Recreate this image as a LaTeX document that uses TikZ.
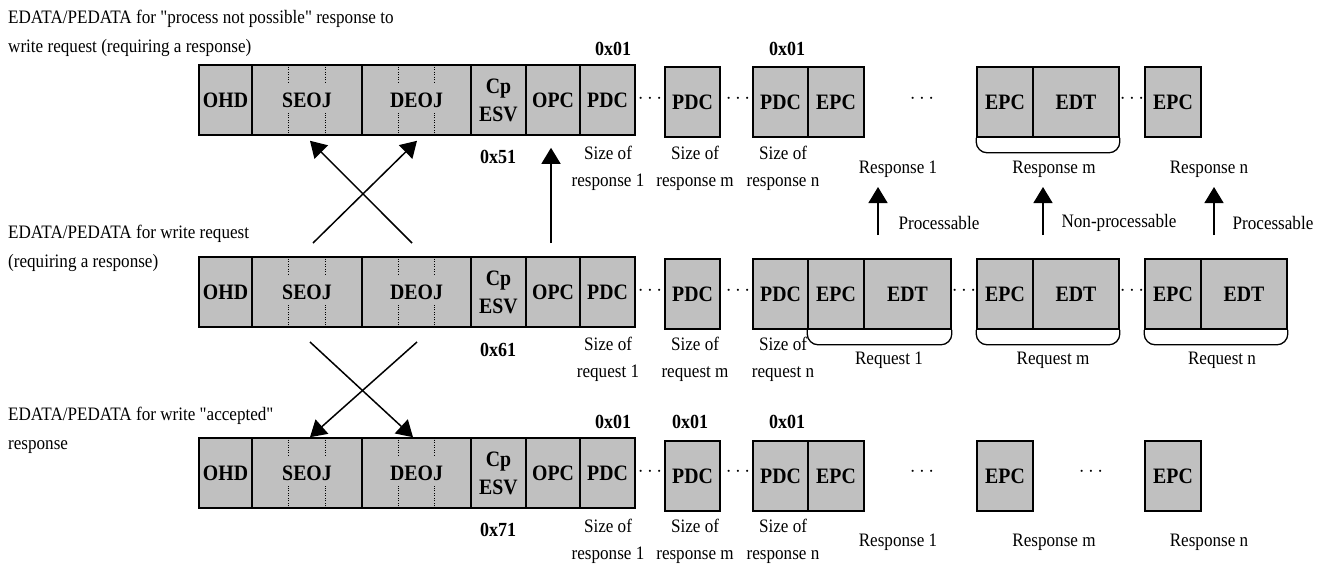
\documentclass[tikz,border=0pt]{standalone}
\usepackage{fontspec}
\setmainfont{Liberation Serif}[FakeStretch=0.9]
\newfontfamily\qfont{Liberation Serif}[FakeStretch=0.9]
\usetikzlibrary{arrows.meta,calc}
\definecolor{cellgray}{HTML}{C0C0C0}
\newcommand{\sq}{{\qfont"}}
\begin{document}
\begin{tikzpicture}[x=1pt,y=-1pt,
  cell/.style={draw=black, line width=1.6pt, fill=cellgray, inner sep=0pt,
    minimum height=70pt, font=\fontsize{22}{28}\selectfont\bfseries, align=center},
  hex/.style={inner sep=0pt, font=\fontsize{20}{24}\selectfont\bfseries},
  lbl/.style={inner sep=0pt, font=\fontsize{19}{27}\selectfont, align=center},
  side/.style={inner sep=0pt, anchor=west, font=\fontsize{19}{29}\selectfont, align=left},
  dts/.style={inner sep=0pt, font=\fontsize{21}{24}\selectfont},
  arr/.style={line width=1.5pt, -{Triangle[length=16pt,width=19pt]}},
  brc/.style={line width=1.3pt, rounded corners=11pt},
  dotl/.style={line width=1pt, dash pattern=on 1pt off 1.5pt}
]
\useasboundingbox (0,0) rectangle (1332,568);

% ---------- side labels
\node[side] (lab-top) at (8,33) {EDATA/PEDATA for \sq process not possible\sq\ response to\\write request (requiring a response)};
\node[side] (lab-mid) at (8,248) {EDATA/PEDATA for write request\\(requiring a response)};
\node[side] (lab-bot) at (8,430) {EDATA/PEDATA for write \sq accepted\sq\\response};

% TOP ROW
\node[cell, minimum width=53pt]  (t-ohd)  at (225.5,100) {OHD};
\node[cell, minimum width=110pt] (t-seoj) at (307,100) {SEOJ};
\node[cell, minimum width=109pt] (t-deoj) at (416.5,100) {DEOJ};
\node[cell, minimum width=55pt]  (t-esv)  at (498.5,100) {Cp\\ESV};
\node[cell, minimum width=54pt]  (t-opc)  at (553,100) {OPC};
\node[cell, minimum width=55pt]  (t-pdc1) at (607.5,100) {PDC};
\node[cell, minimum width=55pt]  (t-pdcm) at (692.5,102) {PDC};
\node[cell, minimum width=55pt]  (t-pdcn) at (780.5,102) {PDC};
\node[cell, minimum width=56pt]  (t-epc1) at (836,102) {EPC};
\node[cell, minimum width=56pt]  (t-epcm) at (1005,102) {EPC};
\node[cell, minimum width=86pt]  (t-edtm) at (1076,102) {EDT};
\node[cell, minimum width=56pt]  (t-epcn) at (1173,102) {EPC};
\node[dts] (t-d1) at (650,99) {$\cdots$};
\node[dts] (t-d2) at (738,99) {$\cdots$};
\node[dts] (t-d3) at (922,99) {$\cdots$};
\node[dts] (t-d4) at (1132,99) {$\cdots$};
\node[hex] (t-h1) at (613,49) {0x01};
\node[hex] (t-hn) at (787,49) {0x01};
\node[hex] (t-esvv) at (498,157) {0x51};
\node[lbl] (t-s1) at (608,168) {Size of\\response 1};
\node[lbl] (t-sm) at (695,168) {Size of\\response m};
\node[lbl] (t-sn) at (783,168) {Size of\\response n};
\node[lbl] (t-r1) at (898,169) {Response 1};
\node[lbl] (t-rm) at (1054,169) {Response m};
\node[lbl] (t-rn) at (1209,169) {Response n};
\draw[brc] (t-epcm.south west) -- ++(0,15) -| (t-edtm.south east);

% MIDDLE ROW
\node[cell, minimum width=53pt]  (m-ohd)  at (225.5,292) {OHD};
\node[cell, minimum width=110pt] (m-seoj) at (307,292) {SEOJ};
\node[cell, minimum width=109pt] (m-deoj) at (416.5,292) {DEOJ};
\node[cell, minimum width=55pt]  (m-esv)  at (498.5,292) {Cp\\ESV};
\node[cell, minimum width=54pt]  (m-opc)  at (553,292) {OPC};
\node[cell, minimum width=55pt]  (m-pdc1) at (607.5,292) {PDC};
\node[cell, minimum width=55pt]  (m-pdcm) at (692.5,294) {PDC};
\node[cell, minimum width=55pt]  (m-pdcn) at (780.5,294) {PDC};
\node[cell, minimum width=56pt]  (m-epc1) at (836,294) {EPC};
\node[cell, minimum width=87pt]  (m-edt1) at (907.5,294) {EDT};
\node[cell, minimum width=56pt]  (m-epcm) at (1005,294) {EPC};
\node[cell, minimum width=86pt]  (m-edtm) at (1076,294) {EDT};
\node[cell, minimum width=56pt]  (m-epcn) at (1173,294) {EPC};
\node[cell, minimum width=86pt]  (m-edtn) at (1244,294) {EDT};
\node[dts] (m-d1) at (650,291) {$\cdots$};
\node[dts] (m-d2) at (738,291) {$\cdots$};
\node[dts] (m-d3) at (964,291) {$\cdots$};
\node[dts] (m-d4) at (1132,291) {$\cdots$};
\node[hex] (m-esvv) at (498,350) {0x61};
\node[lbl] (m-s1) at (608,359) {Size of\\request 1};
\node[lbl] (m-sm) at (695,359) {Size of\\request m};
\node[lbl] (m-sn) at (783,359) {Size of\\request n};
\node[lbl] (m-r1) at (889,360) {Request 1};
\node[lbl] (m-rm) at (1053,360) {Request m};
\node[lbl] (m-rn) at (1222,360) {Request n};
\draw[brc] (m-epc1.south west) -- ++(0,15) -| (m-edt1.south east);
\draw[brc] (m-epcm.south west) -- ++(0,15) -| (m-edtm.south east);
\draw[brc] (m-epcn.south west) -- ++(0,15) -| (m-edtn.south east);

% BOTTOM ROW
\node[cell, minimum width=53pt]  (b-ohd)  at (225.5,473) {OHD};
\node[cell, minimum width=110pt] (b-seoj) at (307,473) {SEOJ};
\node[cell, minimum width=109pt] (b-deoj) at (416.5,473) {DEOJ};
\node[cell, minimum width=55pt]  (b-esv)  at (498.5,473) {Cp\\ESV};
\node[cell, minimum width=54pt]  (b-opc)  at (553,473) {OPC};
\node[cell, minimum width=55pt]  (b-pdc1) at (607.5,473) {PDC};
\node[cell, minimum width=55pt]  (b-pdcm) at (692.5,476) {PDC};
\node[cell, minimum width=55pt]  (b-pdcn) at (780.5,476) {PDC};
\node[cell, minimum width=56pt]  (b-epc1) at (836,476) {EPC};
\node[cell, minimum width=56pt]  (b-epcm) at (1005,476) {EPC};
\node[cell, minimum width=56pt]  (b-epcn) at (1173,476) {EPC};
\node[dts] (b-d1) at (650,472) {$\cdots$};
\node[dts] (b-d2) at (738,472) {$\cdots$};
\node[dts] (b-d3) at (922,472) {$\cdots$};
\node[dts] (b-d4) at (1091,472) {$\cdots$};
\node[hex] (b-h1) at (613,422) {0x01};
\node[hex] (b-hm) at (690,422) {0x01};
\node[hex] (b-hn) at (787,422) {0x01};
\node[hex] (b-esvv) at (498,530) {0x71};
\node[lbl] (b-s1) at (608,541) {Size of\\response 1};
\node[lbl] (b-sm) at (695,541) {Size of\\response m};
\node[lbl] (b-sn) at (783,541) {Size of\\response n};
\node[lbl] (b-r1) at (898,542) {Response 1};
\node[lbl] (b-rm) at (1054,542) {Response m};
\node[lbl] (b-rn) at (1209,542) {Response n};

% dotted separators inside SEOJ / DEOJ
\foreach \r in {t,m,b}{
  \foreach \n in {seoj,deoj}{
    \foreach \f in {1/3,2/3}{
      \draw[dotl] ($(\r-\n.north west)!\f!(\r-\n.north east)$) -- ++(0,20);
      \draw[dotl] ($(\r-\n.south west)!\f!(\r-\n.south east)$) -- ++(0,-23);
    }
  }
}

% ---------- connectors
\coordinate (ca1) at (313,243);
\coordinate (ca2) at (412,243);
\coordinate (cv)  at (551,243);
\draw[arr] (ca1) -- ($(t-deoj.south)+(0.5,5)$);
\draw[arr] (ca2) -- ($(t-seoj.south)+(3,5)$);
\draw[arr] (cv) -- ($(t-opc.south)+(-2,12)$);

\coordinate (cb1) at (310,342);
\coordinate (cb2) at (417,342);
\draw[arr] (cb1) -- ($(b-deoj.north)+(-3.5,0)$);
\draw[arr] (cb2) -- ($(b-seoj.north)+(3,0)$);

\coordinate (cp1) at (878,235);
\coordinate (cp2) at (1043,235);
\coordinate (cp3) at (1214,235);
\draw[arr] (cp1) -- ++(0,-48);
\draw[arr] (cp2) -- ++(0,-48);
\draw[arr] (cp3) -- ++(0,-48);
\node[lbl] (p1) at (939,223) {Processable};
\node[lbl] (p2) at (1119,223) {Non-processable};
\node[lbl] (p3) at (1273,223) {Processable};
\end{tikzpicture}
\end{document}
